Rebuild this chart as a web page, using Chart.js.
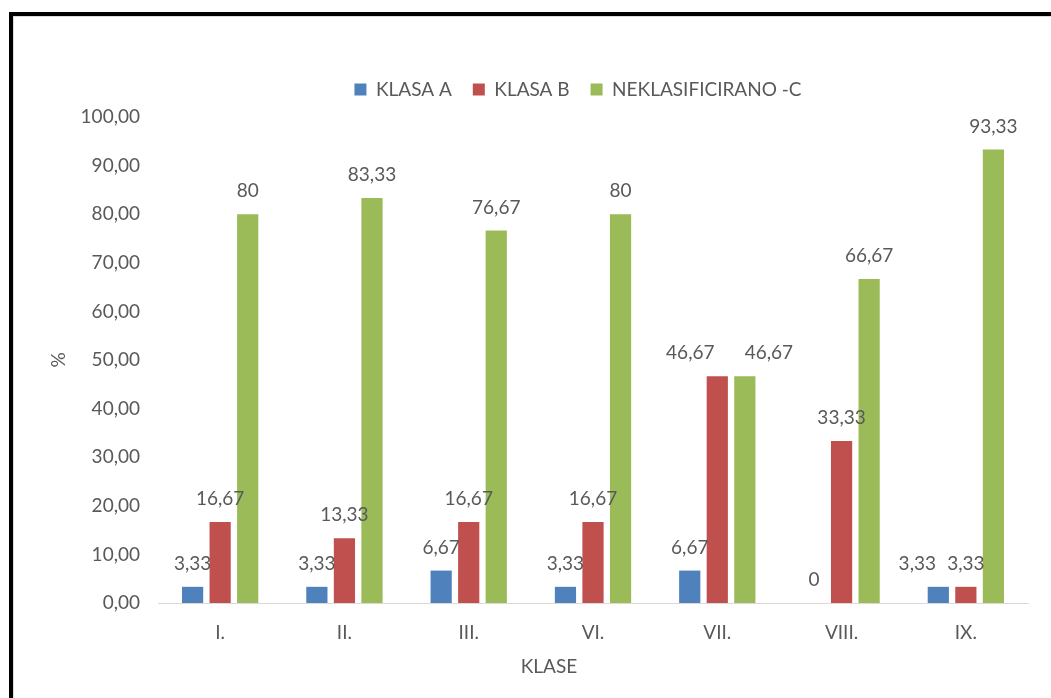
<!DOCTYPE html>
<html>
<head>
<meta charset="utf-8">
<script src="https://cdn.jsdelivr.net/npm/chart.js@4.4.0/dist/chart.umd.min.js"></script>
<style>
  html, body { margin: 0; padding: 0; background: #fff; overflow: hidden; }
  #frame {
    position: absolute; left: 9px; top: 12px; width: 1200px; height: 900px;
    border-left: 4px solid #000; border-top: 4px solid #000;
    box-shadow: inset 1px 1px 0 #dcdcdc;
  }
  #wrap { position: absolute; left: 0; top: 0; width: 1051px; height: 698px; }
</style>
</head>
<body>
<div id="frame"></div>
<div id="wrap"><canvas id="chart" width="1051" height="698"></canvas></div>
<script>
// data
const categories = ['I.', 'II.', 'III.', 'VI.', 'VII.', 'VIII.', 'IX.'];
const klasaA = [3.33, 3.33, 6.67, 3.33, 6.67, 0, 3.33];
const klasaB = [16.67, 13.33, 16.67, 16.67, 46.67, 33.33, 3.33];
const neklasificirano = [80, 83.33, 76.67, 80, 46.67, 66.67, 93.33];
const seriesNames = ['KLASA A', 'KLASA B', 'NEKLASIFICIRANO -C'];

const textColor = '#595959';
const font = 'Lato, "Open Sans", sans-serif';

// label shifts (px) where labels would collide, dataset index -> category index -> dx
const labelShift = { 0: { 6: -21 }, 1: { 4: -27 }, 2: { 4: 24 } };

function fmt(v) {
    return Number.isInteger(v) ? String(v) : v.toFixed(2).replace('.', ',');
}

// simple value labels above bars
const barLabels = {
    id: 'barLabels',
    afterDatasetsDraw(chart) {
        const ctx = chart.ctx;
        ctx.save();
        ctx.font = '19px ' + font;
        ctx.fillStyle = textColor;
        ctx.textAlign = 'center';
        ctx.textBaseline = 'middle';
        chart.data.datasets.forEach((ds, di) => {
            chart.getDatasetMeta(di).data.forEach((bar, i) => {
                const dx = (labelShift[di] && labelShift[di][i]) || 0;
                ctx.fillText(fmt(ds.data[i]), bar.x + dx, bar.y - 23);
            });
        });
        ctx.restore();
    }
};

// move the legend a bit (excel puts it right of centre, a bit higher)
// and the x title a bit to the left
const nudges = {
    id: 'nudges',
    afterLayout(chart) {
        const lg = chart.legend;
        lg.left += 64; lg.right += 64;
        lg.top -= 8; lg.bottom -= 8;
        const xs = chart.scales.x;
        if (!xs._titleWrapped) {
            const orig = xs.drawTitle;
            xs.drawTitle = function () {
                this.ctx.save();
                this.ctx.translate(-44, 0);
                orig.call(this);
                this.ctx.restore();
            };
            xs._titleWrapped = true;
        }
    }
};

const ctx = document.getElementById('chart').getContext('2d');
const chart = new Chart(ctx, {
    type: 'bar',
    data: {
        labels: categories,
        datasets: [
            { label: seriesNames[0], data: klasaA, backgroundColor: '#4F81BD' },
            { label: seriesNames[1], data: klasaB, backgroundColor: '#C0504D' },
            { label: seriesNames[2], data: neklasificirano, backgroundColor: '#9BBB59' }
        ]
    },
    options: {
        responsive: false,
        animation: false,
        categoryPercentage: 0.665,
        barPercentage: 0.77,
        layout: { padding: { top: 67, right: 23, bottom: 0, left: 0 } },
        plugins: {
            legend: {
                position: 'top',
                labels: {
                    color: textColor,
                    font: { family: font, size: 19 },
                    boxWidth: 12,
                    boxHeight: 12,
                    padding: 21
                }
            },
            tooltip: { enabled: false }
        },
        scales: {
            x: {
                grid: { display: false, drawTicks: false },
                border: { display: true, color: '#d9d9d9', width: 1 },
                ticks: { color: textColor, font: { family: font, size: 19 }, padding: 18 },
                title: {
                    display: true, text: 'KLASE', color: textColor,
                    font: { family: font, size: 19 }, padding: { top: 0, bottom: 20 }
                },
                afterFit(scale) { scale.height = 95; }
            },
            y: {
                min: 0,
                max: 100,
                grid: { display: false, drawTicks: false },
                border: { display: false },
                ticks: {
                    stepSize: 10,
                    color: textColor,
                    font: { family: font, size: 19 },
                    padding: 18,
                    callback: v => v.toFixed(2).replace('.', ',')
                },
                title: {
                    display: true, text: '%', color: textColor,
                    font: { family: font, size: 19 }, padding: { top: 47, bottom: 0 }
                },
                afterFit(scale) { scale.width = 158; }
            }
        }
    },
    plugins: [barLabels, nudges]
});
</script>
</body>
</html>
